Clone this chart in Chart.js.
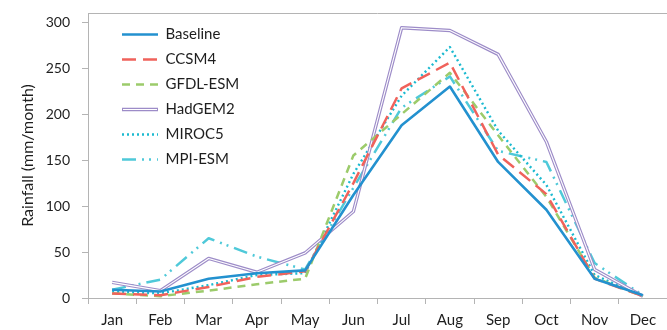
<!DOCTYPE html>
<html>
<head>
<meta charset="utf-8">
<script src="https://cdn.jsdelivr.net/npm/chart.js@4/dist/chart.umd.min.js"></script>
<style>
  html, body { margin: 0; padding: 0; background: #fff; }
  #wrap { width: 667px; height: 330px; position: relative; }
</style>
</head>
<body>
<div id="wrap"><canvas id="c"></canvas></div>
<script>
// Monthly rainfall (mm/month): observed baseline and five climate models
const months   = ['Jan', 'Feb', 'Mar', 'Apr', 'May', 'Jun', 'Jul', 'Aug', 'Sep', 'Oct', 'Nov', 'Dec'];
const baseline = [9, 7, 21, 27, 30, 112, 188, 230, 148, 96, 21, 3];
const ccsm4    = [5, 3, 12, 23, 29, 125, 228, 256, 156, 113, 21, 2];
const gfdlEsm  = [5, 2, 8, 15, 21, 155, 200, 245, 177, 110, 22, 2];
const hadgem2  = [17, 8, 43, 28, 49, 94, 294, 291, 265, 170, 31, 2];
const miroc5   = [7, 5, 14, 25, 27, 135, 220, 273, 182, 123, 25, 2];
const mpiEsm   = [9, 20, 65, 45, 31, 120, 207, 241, 160, 148, 38, 3];
const yTicks   = [0, 50, 100, 150, 200, 250, 300];

const FONT = 'Lato';
const AXIS_GREY = '#b4b4b4';
const TEXT = '#1e1e1e';
const LEGEND_SIZE = 15;
const LEGEND_PAD = 10;
const LEGEND_LINE = 36;

// Draws the plot frame's top edge
const topEdge = {
  id: 'topEdge',
  beforeDatasetsDraw(chart) {
    const { ctx, chartArea: a } = chart;
    ctx.save();
    ctx.strokeStyle = AXIS_GREY;
    ctx.lineWidth = 1;
    ctx.beginPath();
    ctx.moveTo(a.left, a.top + 0.5);
    ctx.lineTo(a.right, a.top + 0.5);
    ctx.stroke();
    ctx.restore();
  }
};

// Places the legend inside the plot, near its upper-left corner
const legendPlacement = {
  id: 'legendPlacement',
  afterLayout(chart) {
    const lg = chart.legend, a = chart.chartArea;
    if (!lg) return;
    const w = lg.width;
    lg.left = a.left + 24;
    lg.top = a.top + 4;
    lg.right = lg.left + w;
    lg.bottom = a.bottom;
  }
};

// HadGEM2 is drawn as a double line: a white core stroked through the purple line
const doubleLine = {
  id: 'doubleLine',
  afterDatasetDraw(chart, args) {
    const ds = chart.data.datasets[args.index];
    if (!ds.doubleLine) return;
    const pts = args.meta.data;
    const { ctx } = chart;
    ctx.save();
    ctx.strokeStyle = '#ffffff';
    ctx.lineWidth = 1.1;
    ctx.lineJoin = 'round';
    ctx.beginPath();
    pts.forEach((p, i) => (i ? ctx.lineTo(p.x, p.y) : ctx.moveTo(p.x, p.y)));
    ctx.stroke();
    ctx.restore();
  },
  afterDraw(chart) {
    const lg = chart.legend;
    if (!lg || !lg.legendItems) return;
    const { ctx } = chart;
    lg.legendItems.forEach((item, i) => {
      if (!chart.data.datasets[item.datasetIndex].doubleLine) return;
      const x0 = lg.left + LEGEND_PAD;
      const y = lg.top + LEGEND_PAD + i * (LEGEND_SIZE + LEGEND_PAD) + LEGEND_SIZE / 2;
      ctx.save();
      ctx.strokeStyle = '#ffffff';
      ctx.lineWidth = 1.1;
      ctx.beginPath();
      ctx.moveTo(x0 + 1, y);
      ctx.lineTo(x0 + LEGEND_LINE - 1, y);
      ctx.stroke();
      ctx.restore();
    });
  }
};

const series = (label, data, color, width, dash, extra) => Object.assign({
  label, data,
  borderColor: color,
  backgroundColor: color,
  borderWidth: width,
  borderDash: dash,
  borderCapStyle: 'butt',
  borderJoinStyle: 'round',
  pointRadius: 0,
  pointHoverRadius: 0,
  tension: 0,
  fill: false
}, extra || {});

// Legend swatches repeat each series' own stroke
const legendLabels = chart => Chart.defaults.plugins.legend.labels.generateLabels(chart).map(item => {
  const ds = chart.data.datasets[item.datasetIndex];
  return Object.assign(item, {
    strokeStyle: ds.borderColor,
    fillStyle: ds.borderColor,
    lineWidth: ds.borderWidth,
    lineDash: ds.borderDash,
    lineDashOffset: 0,
    lineCap: 'butt',
    pointStyle: 'line'
  });
});

new Chart(document.getElementById('c'), {
  type: 'line',
  data: {
    labels: months,
    datasets: [
      series('Baseline', baseline, '#2391cf', 2.6, []),
      series('CCSM4', ccsm4, '#f0625b', 2.5, [14, 7]),
      series('GFDL-ESM', gfdlEsm, '#9ccb6b', 2.5, [8, 6]),
      series('HadGEM2', hadgem2, '#9d8cc8', 3.4, [], { doubleLine: true }),
      series('MIROC5', miroc5, '#1cbad0', 2.4, [2, 3]),
      series('MPI-ESM', mpiEsm, '#4fc9d9', 2.5, [14, 6, 2, 5, 2, 6])
    ]
  },
  options: {
    responsive: true,
    maintainAspectRatio: false,
    animation: false,
    devicePixelRatio: 1,
    layout: { padding: { top: 13, right: 0, bottom: 0, left: 0 } },
    plugins: {
      tooltip: { enabled: false },
      legend: {
        position: 'chartArea',
        align: 'start',
        labels: {
          usePointStyle: true,
          pointStyle: 'line',
          pointStyleWidth: LEGEND_LINE,
          padding: LEGEND_PAD,
          color: TEXT,
          font: { family: FONT, size: LEGEND_SIZE },
          generateLabels: legendLabels
        }
      }
    },
    scales: {
      x: {
        type: 'category',
        offset: true,
        grid: { display: true, drawOnChartArea: false, offset: true, tickLength: 6, color: AXIS_GREY },
        border: { display: true, color: AXIS_GREY },
        ticks: { color: TEXT, padding: 7, maxRotation: 0, autoSkip: false, font: { family: FONT, size: 15 } },
        afterFit: s => { s.height = 32; s.paddingLeft = 0; s.paddingRight = 0; }
      },
      y: {
        min: 0,
        max: 310,
        afterBuildTicks: s => { s.ticks = yTicks.map(v => ({ value: v })); },
        grid: { display: true, drawOnChartArea: false, tickLength: 6, color: AXIS_GREY },
        border: { display: true, color: AXIS_GREY },
        ticks: { color: TEXT, padding: 12, font: { family: FONT, size: 14 } },
        title: {
          display: true,
          text: 'Rainfall (mm/month)',
          color: TEXT,
          font: { family: FONT, size: 16 },
          padding: { top: 18, bottom: 0 }
        },
        afterFit: s => { s.width = 88; s.paddingTop = 0; s.paddingBottom = 0; }
      }
    }
  },
  plugins: [topEdge, legendPlacement, doubleLine]
});
</script>
</body>
</html>
